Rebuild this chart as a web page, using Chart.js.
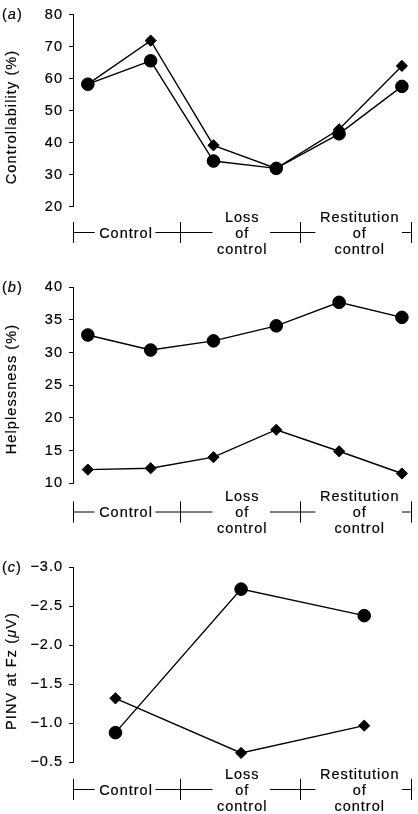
<!DOCTYPE html>
<html><head><meta charset="utf-8">
<script src="https://cdn.jsdelivr.net/npm/chart.js@4.4.1/dist/chart.umd.min.js"></script>
<style>
html,body{margin:0;padding:0;background:#fff;}
#wrap{position:relative;width:418px;height:814px;overflow:hidden;}
canvas{position:absolute;left:0;}
</style></head><body>
<div id="wrap">
<canvas id="ca" width="418" height="262" style="top:0px"></canvas>
<canvas id="cb" width="418" height="284" style="top:262px"></canvas>
<canvas id="cc" width="418" height="284" style="top:530px"></canvas>
</div>
<script>
// ---- data ----
const phaseX = [1, 2, 3, 4, 5, 6];
const controllabilityCircle = [58.3, 65.6, 34.3, 32.0, 42.8, 57.6];
const controllabilityDiamond = [58.3, 71.9, 39.2, 32.0, 44.2, 64.0];
const helplessnessCircle = [32.7, 30.4, 31.8, 34.1, 37.7, 35.4];
const helplessnessDiamond = [12.1, 12.3, 14.0, 18.2, 14.9, 11.5];
const pinvX = [1.44, 3.44, 5.40];
const pinvCircle = [-0.88, -2.72, -2.38];
const pinvDiamond = [-1.32, -0.62, -0.97];
const groupLabels = [["Control"], ["Loss", "of", "control"], ["Restitution", "of", "control"]];
const groupBounds = [0.764, 2.46, 4.38, 6.14];
const groupCenters = [1.6, 3.45, 5.32];
const ticksA = [20, 80, 10];
const ticksB = [10, 40, 5];
const ticksC = [-3.0, -0.5, 0.5];

const FONT = '"Liberation Sans", Arial, Helvetica, sans-serif';
const FS = 14.5;
const STROKE = 0.2;

function setFont(ctx, italic) { ctx.font = (italic ? 'italic ' : '') + FS + 'px ' + FONT; }
function richWidth(ctx, segs) {
  let w = 0;
  segs.forEach(s => { setFont(ctx, s[1]); w += ctx.measureText(s[0]).width; });
  return w;
}
function txt(ctx, s, x, y) { ctx.fillText(s, x, y); ctx.strokeText(s, x, y); }
function drawRich(ctx, segs, x, y) {
  segs.forEach(s => { setFont(ctx, s[1]); txt(ctx, s[0], x, y); x += ctx.measureText(s[0]).width; });
}

const decor = {
  id: 'decor',
  beforeLayout(chart) { chart.ctx.letterSpacing = '1px'; },
  beforeDraw(chart) { chart.ctx.letterSpacing = '1px'; },
  afterDraw(chart, args, o) {
    const ctx = chart.ctx, xs = chart.scales.x, area = chart.chartArea;
    ctx.save();
    ctx.letterSpacing = '1px';
    ctx.strokeStyle = '#000'; ctx.fillStyle = '#000'; ctx.lineWidth = 1;
    setFont(ctx, false);
    const y = o.bracketY;
    const gaps = groupLabels.map((lines, i) => {
      const w = Math.max(...lines.map(l => ctx.measureText(l).width));
      const c = xs.getPixelForValue(groupCenters[i]);
      return [c - w / 2 - 4, c + w / 2 + 3];
    });
    ctx.beginPath();
    let start = xs.getPixelForValue(groupBounds[0]);
    gaps.forEach(g => { ctx.moveTo(start, y + 0.5); ctx.lineTo(g[0], y + 0.5); start = g[1]; });
    ctx.moveTo(start, y + 0.5); ctx.lineTo(xs.getPixelForValue(groupBounds[3]), y + 0.5);
    groupBounds.forEach(b => {
      const px = Math.round(xs.getPixelForValue(b)) + 0.5;
      ctx.moveTo(px, y - 10); ctx.lineTo(px, y + 11);
    });
    ctx.stroke();
    ctx.lineWidth = STROKE;
    ctx.textAlign = 'center'; ctx.textBaseline = 'alphabetic';
    groupLabels.forEach((lines, i) => {
      const c = xs.getPixelForValue(groupCenters[i]);
      const n = lines.length;
      lines.forEach((l, j) => { txt(ctx, l, c + 0.5, y + 5.5 + (j - (n - 1) / 2) * 16); });
    });
    // panel label
    ctx.textAlign = 'left'; ctx.textBaseline = 'middle';
    drawRich(ctx, [['(', false], [o.panel, true], [')', false]], 2, area.top + 0.5);
    // axis title
    ctx.letterSpacing = '1.1px';
    const w = richWidth(ctx, o.title);
    ctx.translate(12, o.titleY);
    ctx.rotate(-Math.PI / 2);
    drawRich(ctx, o.title, -w / 2, 0);
    ctx.restore();
  }
};

function pts(xArr, yArr) { return xArr.map((x, i) => ({ x: x, y: yArr[i] })); }

function makePanel(id, xArr, circ, diam, yt, opts) {
  const reverse = !!opts.reverse;
  new Chart(document.getElementById(id), {
    type: 'line',
    data: {
      datasets: [
        { data: pts(xArr, circ), borderColor: '#000', backgroundColor: '#000', borderWidth: 1.4,
          pointStyle: 'circle', pointRadius: 6.3, pointBorderWidth: 1, pointBorderColor: '#000',
          pointBackgroundColor: '#000', tension: 0 },
        { data: pts(xArr, diam), borderColor: '#000', backgroundColor: '#000', borderWidth: 1.4,
          pointStyle: 'rectRot', pointRadius: 5.6, pointBorderWidth: 1, pointBorderColor: '#000',
          pointBackgroundColor: '#000', tension: 0 }
      ]
    },
    options: {
      responsive: false, animation: false, devicePixelRatio: 1,
      layout: { padding: { top: opts.top, bottom: opts.bottom, left: 0, right: 3 } },
      plugins: { legend: { display: false }, tooltip: { enabled: false }, decor: opts.decor },
      scales: {
        x: { type: 'linear', min: groupBounds[0], max: groupBounds[3], display: false },
        y: {
          type: 'linear', min: yt[0], max: yt[1], reverse: reverse,
          afterFit(s) { s.width = 73; },
          border: { display: true, color: '#000', width: 1 },
          grid: { display: true, drawOnChartArea: false, drawTicks: true, tickLength: 4, color: '#000', lineWidth: 1 },
          ticks: {
            stepSize: yt[2], color: '#000', padding: 6, font: { family: FONT, size: FS },
            textStrokeColor: '#000', textStrokeWidth: STROKE,
            callback: opts.fmt
          }
        }
      }
    },
    plugins: [decor]
  });
}

makePanel('ca', phaseX, controllabilityCircle, controllabilityDiamond, ticksA, {
  top: 11, bottom: 262 - 206.8,
  fmt: v => String(v),
  decor: { bracketY: 232, panel: 'a', titleY: 117, title: [['Controllability (%)', false]] }
});
makePanel('cb', phaseX, helplessnessCircle, helplessnessDiamond, ticksB, {
  top: 25.3, bottom: 284 - 221.3,
  fmt: v => String(v),
  decor: { bracketY: 249.5, panel: 'b', titleY: 127, title: [['Helplessness (%)', false]] }
});
makePanel('cc', pinvX, pinvCircle, pinvDiamond, ticksC, {
  top: 37.3, bottom: 284 - 232.3, reverse: true,
  fmt: v => Number(v).toFixed(1).replace('-', '\u2212'),
  decor: { bracketY: 259, panel: 'c', titleY: 141, title: [['PINV at Fz (', false], ['\u03bc', true], ['V)', false]] }
});
</script>
</body></html>
